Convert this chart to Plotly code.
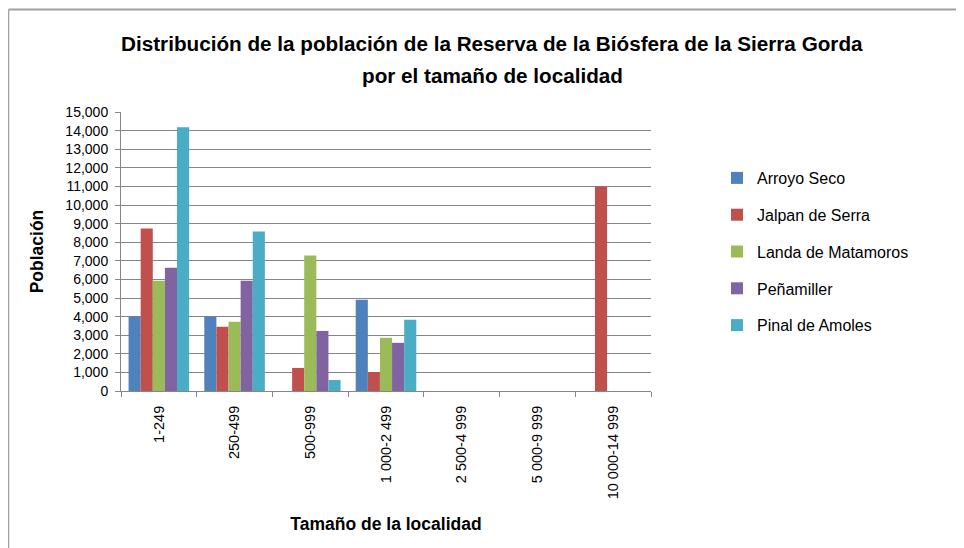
import plotly.graph_objects as go

CATEGORIES = ["1-249", "250-499", "500-999", "1 000-2 499", "2 500-4 999", "5 000-9 999", "10 000-14 999"]
ARROYO_SECO = [4000, 4000, 0, 4900, 0, 0, 0]
JALPAN_DE_SERRA = [8730, 3450, 1240, 1020, 0, 0, 10990]
LANDA_DE_MATAMOROS = [5930, 3720, 7280, 2860, 0, 0, 0]
PENAMILLER = [6630, 5930, 3230, 2590, 0, 0, 0]
PINAL_DE_AMOLES = [14180, 8570, 590, 3830, 0, 0, 0]

SERIES = [
    ("Arroyo Seco", ARROYO_SECO, "#4F81BD"),
    ("Jalpan de Serra", JALPAN_DE_SERRA, "#C0504D"),
    ("Landa de Matamoros", LANDA_DE_MATAMOROS, "#9BBB59"),
    ("Peñamiller", PENAMILLER, "#8064A2"),
    ("Pinal de Amoles", PINAL_DE_AMOLES, "#4BACC6"),
]

FONT = "Liberation Sans, Arial"
GRID = "#868686"

# page puts the figure 8px in; plot area on screen is x 121..651, y 112..391
OFF = 8
PW, PH = 530, 279


def px_y(screen_y):
    return (391 - screen_y) / PH


fig = go.Figure()
for name, vals, color in SERIES:
    fig.add_trace(go.Bar(
        x=CATEGORIES, y=vals, name=name, marker_color=color,
        marker_line_width=0, legendgroup=name,
    ))

fig.update_layout(
    barmode="group",
    bargap=0.2,
    bargroupgap=0,
    width=964 - OFF, height=548 - OFF,
    margin=dict(l=121 - OFF, r=964 - 651, t=112 - OFF, b=548 - 391, autoexpand=False),
    plot_bgcolor="white",
    paper_bgcolor="white",
    font=dict(family=FONT, size=14, color="black"),
    legend=dict(
        x=(717 - 121) / PW, y=px_y(161), xanchor="left", yanchor="top",
        font=dict(family=FONT, size=16),
        tracegroupgap=13,
        bgcolor="rgba(0,0,0,0)",
    ),
    xaxis=dict(
        title=dict(text="<b>Tamaño de la localidad</b>", font=dict(size=17.5), standoff=19),
        automargin=False,
        tickangle=-90,
        ticks="outside", tickson="boundaries", ticklen=5, tickcolor=GRID,
        ticklabelstandoff=8,
        showline=True, linecolor=GRID, linewidth=1,
        tickfont=dict(size=14.5),
    ),
    yaxis=dict(
        title=dict(text="<b>Población</b>", font=dict(size=17.5), standoff=17),
        automargin=False,
        range=[0, 15000], dtick=1000, tickformat=",d",
        ticks="outside", ticklen=5, tickcolor=GRID,
        ticklabelstandoff=4,
        showline=True, linecolor=GRID, linewidth=1,
        showgrid=True, gridcolor=GRID, gridwidth=1,
        zeroline=False,
        tickfont=dict(size=14),
    ),
)

# two-line chart title
for txt, ypx in [("Distribución de la población de la Reserva de la Biósfera de la Sierra Gorda", 44),
                 ("por el tamaño de localidad", 76)]:
    fig.add_annotation(
        text=f"<b>{txt}</b>", xref="paper", yref="paper",
        x=(492 - 121) / PW, y=px_y(ypx), xanchor="center", yanchor="middle",
        showarrow=False, font=dict(family=FONT, size=20.7, color="black"),
    )

# outer chart border (left and top visible in the frame)
left = (OFF + 0.5 - 121) / PW
fig.add_shape(type="line", xref="paper", yref="paper",
              x0=left, x1=(980 - 121) / PW, y0=px_y(9.5), y1=px_y(9.5),
              line=dict(color="#A0A0A0", width=2))
fig.add_shape(type="line", xref="paper", yref="paper",
              x0=left, x1=left, y0=px_y(9.5), y1=px_y(560),
              line=dict(color="#A0A0A0", width=1.5))

fig.write_html("out.html")
